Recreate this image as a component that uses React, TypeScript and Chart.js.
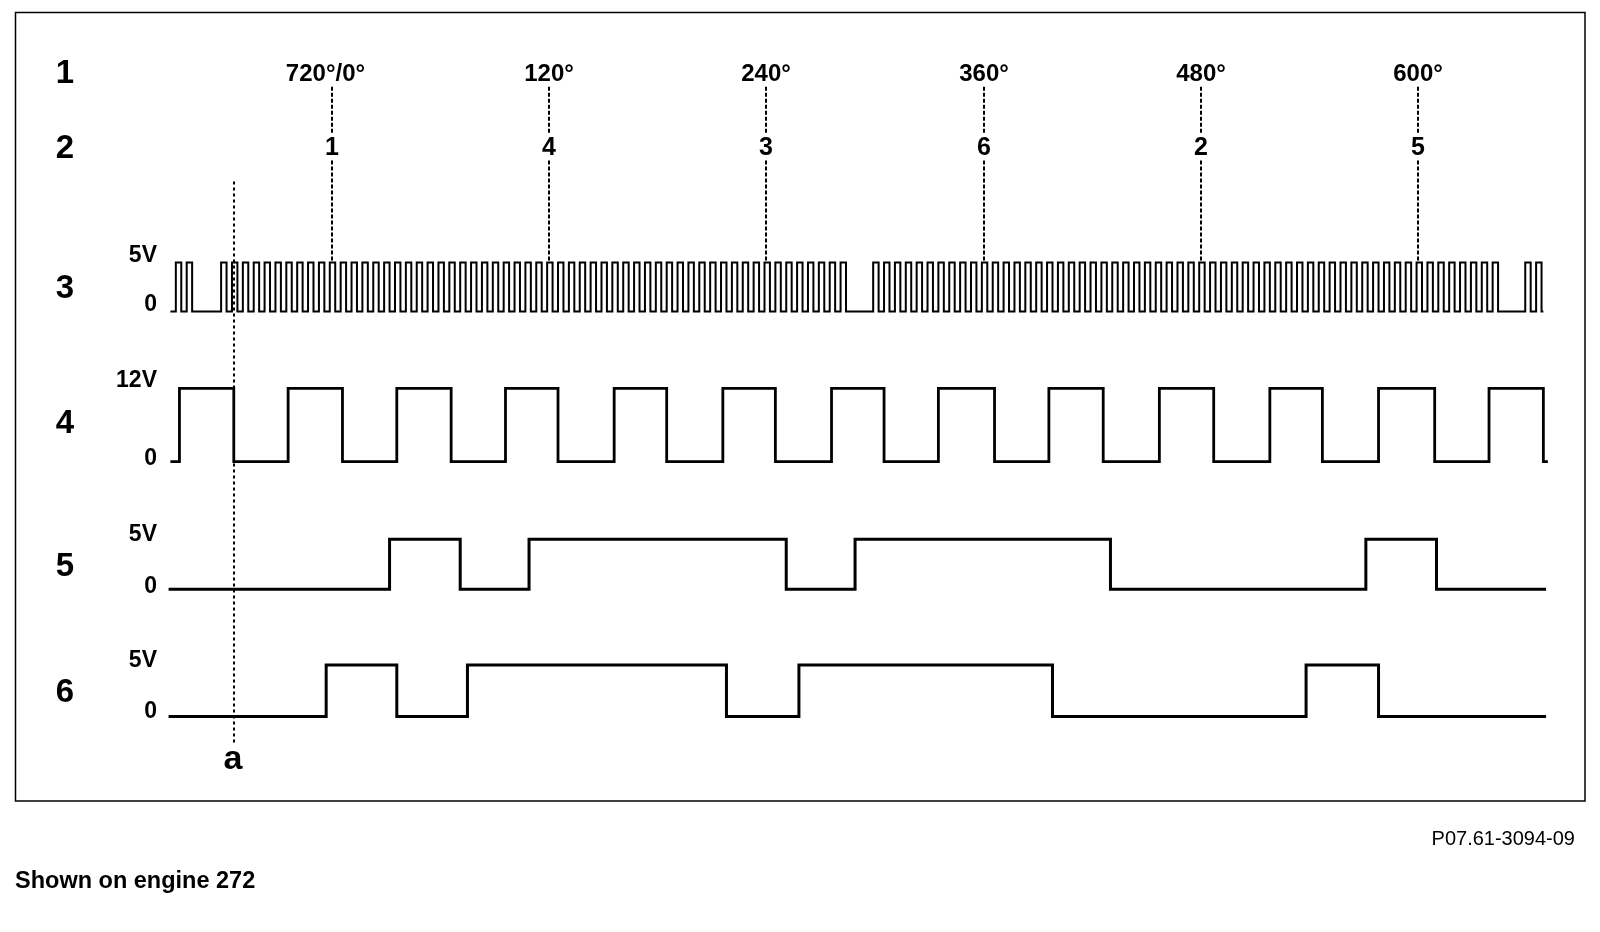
import React, { useEffect, useRef } from "react";
import { Chart, registerables } from "chart.js";

Chart.register(...registerables);

// ---------------- DATA (crank angle in degrees) ----------------
const DEGREE_MARKS = [0, 120, 240, 360, 480, 600];
const DEGREE_LABELS = ["720°/0°", "120°", "240°", "360°", "480°", "600°"];
const FIRING_ORDER = ["1", "4", "3", "6", "2", "5"];
const ROW_LABELS = ["1", "2", "3", "4", "5", "6"];

// Row 3: crankshaft position sensor (60-2 tooth wheel), rising edge of each tooth
const CRANK_START = -89;
const CRANK_END = 669;
const CRANK_HIGH_V = 5;
const CRANK_TOOTH_HIGH_DEG = 3;
const CRANK_TOOTH_RISE = [
  -86, -80,
  -61, -55, -49, -43, -37, -31, -25, -19, -13, -7, -1, 5, 11, 17, 23, 29, 35, 41,
  47, 53, 59, 65, 71, 77, 83, 89, 95, 101, 107, 113, 119, 125, 131, 137, 143, 149,
  155, 161, 167, 173, 179, 185, 191, 197, 203, 209, 215, 221, 227, 233, 239, 245,
  251, 257, 263, 269, 275, 281,
  299, 305, 311, 317, 323, 329, 335, 341, 347, 353, 359, 365, 371, 377, 383, 389,
  395, 401, 407, 413, 419, 425, 431, 437, 443, 449, 455, 461, 467, 473, 479, 485,
  491, 497, 503, 509, 515, 521, 527, 533, 539, 545, 551, 557, 563, 569, 575, 581,
  587, 593, 599, 605, 611, 617, 623, 629, 635, 641,
  659, 665,
];

// Row 4: 12 V signal, alternating rise / fall edges (starts low)
const SIG4_START = -89;
const SIG4_END = 671.5;
const SIG4_HIGH_V = 12;
const SIG4_EDGES = [
  -84, -54, -24, 6, 36, 66, 96, 125, 156, 185, 216, 245, 276, 305, 335, 366,
  396, 426, 457, 487, 518, 547, 578, 609, 639, 669,
];

// Row 5: 5 V camshaft signal (starts low)
const SIG5_START = -90;
const SIG5_END = 670.5;
const SIG5_HIGH_V = 5;
const SIG5_EDGES = [32, 71, 109, 251, 289, 430, 571, 610];

// Row 6: 5 V camshaft signal (starts low)
const SIG6_START = -90;
const SIG6_END = 670.5;
const SIG6_HIGH_V = 5;
const SIG6_EDGES = [-3, 36, 75, 218, 258, 398, 538, 578];

// Reference mark "a"
const MARK_A_DEG = -54;
const MARK_A_LABEL = "a";

const VOLT_LABELS_3 = ["5V", "0"];
const VOLT_LABELS_4 = ["12V", "0"];
const VOLT_LABELS_5 = ["5V", "0"];
const VOLT_LABELS_6 = ["5V", "0"];

// ---------------- LAYOUT ----------------
const W = 1600;
const H = 932;
const PX_X0 = 331.6; // pixel of 0°
const PX_PER_DEG = 1.8113;
const FONT = "'Liberation Sans', Arial, Helvetica, sans-serif";

// pixel anchors for each row: [pixel of 0 V, pixel of high level]
const ROW_PX: Record<string, [number, number]> = {
  y3: [311.5, 262.5],
  y4: [461.7, 388.3],
  y5: [589.3, 539.3],
  y6: [716.5, 665],
};

function rowScale(id: string, high: number) {
  const [p0, pH] = ROW_PX[id];
  const vPerPx = high / (p0 - pH);
  const max = p0 * vPerPx;
  return { type: "linear" as const, display: false, min: max - H * vPerPx, max };
}

function squareWave(start: number, edges: number[], end: number, high: number) {
  const pts: { x: number; y: number }[] = [{ x: start, y: 0 }];
  let level = 0;
  for (const e of edges) {
    level = level === 0 ? high : 0;
    pts.push({ x: e, y: level });
  }
  pts.push({ x: end, y: level });
  return pts;
}

function crankEdges() {
  const edges: number[] = [];
  for (const r of CRANK_TOOTH_RISE) {
    edges.push(r, r + CRANK_TOOTH_HIGH_DEG);
  }
  return edges;
}

const diagramPlugin = {
  id: "diagram",
  beforeDatasetsDraw(chart: any) {
    const ctx: CanvasRenderingContext2D = chart.ctx;
    const x = chart.scales.x;
    const y3 = chart.scales.y3;
    ctx.save();
    // frame
    ctx.strokeStyle = "#000";
    ctx.lineWidth = 1.5;
    ctx.strokeRect(15.5, 12.5, 1569.5, 788.5);

    const degY = 74.4;
    const cylY = 148.4;
    // dashed marker lines + labels
    ctx.fillStyle = "#000";
    ctx.textBaseline = "middle";
    ctx.textAlign = "center";
    DEGREE_MARKS.forEach((d, i) => {
      const px = Math.round(x.getPixelForValue(d));
      ctx.setLineDash([4, 2]);
      ctx.lineWidth = 2;
      ctx.beginPath();
      ctx.moveTo(px, 86.7);
      ctx.lineTo(px, cylY - 14);
      ctx.moveTo(px, cylY + 12);
      ctx.lineTo(px, y3.getPixelForValue(CRANK_HIGH_V));
      ctx.stroke();
      ctx.setLineDash([]);
      const lbl = DEGREE_LABELS[i];
      ctx.font = `bold 24px ${FONT}`;
      const shift = lbl.includes("/") ? -6.5 : 0;
      ctx.fillText(lbl, px + shift, degY);
      ctx.font = `bold 25px ${FONT}`;
      ctx.fillText(FIRING_ORDER[i], px, cylY);
    });

    // mark a
    const ax = Math.round(x.getPixelForValue(MARK_A_DEG));
    ctx.setLineDash([3, 3]);
    ctx.lineWidth = 2;
    ctx.beginPath();
    ctx.moveTo(ax, 181.6);
    ctx.lineTo(ax, 745);
    ctx.stroke();
    ctx.setLineDash([]);
    ctx.font = `bold 34px ${FONT}`;
    ctx.textBaseline = "alphabetic";
    ctx.fillText(MARK_A_LABEL, ax - 1, 769);

    // row labels
    ctx.textBaseline = "middle";
    ctx.font = `bold 33px ${FONT}`;
    const rowY = [
      degY,
      cylY + 1,
      (ROW_PX.y3[0] + ROW_PX.y3[1]) / 2 + 2,
      (ROW_PX.y4[0] + ROW_PX.y4[1]) / 2 - 1,
      (ROW_PX.y5[0] + ROW_PX.y5[1]) / 2 + 3,
      (ROW_PX.y6[0] + ROW_PX.y6[1]) / 2 + 2,
    ];
    ROW_LABELS.forEach((l, i) => ctx.fillText(l, 65, rowY[i]));

    // voltage labels
    ctx.textAlign = "right";
    ctx.font = `bold 23px ${FONT}`;
    const volt = (id: string, high: number, labels: string[], dHigh: number, dLow: number) => {
      const s = chart.scales[id];
      ctx.fillText(labels[0], 157, s.getPixelForValue(high) - dHigh);
      ctx.fillText(labels[1], 157, s.getPixelForValue(0) - dLow);
    };
    volt("y3", CRANK_HIGH_V, VOLT_LABELS_3, 7, 7);
    volt("y4", SIG4_HIGH_V, VOLT_LABELS_4, 8, 3);
    volt("y5", SIG5_HIGH_V, VOLT_LABELS_5, 5, 3);
    volt("y6", SIG6_HIGH_V, VOLT_LABELS_6, 4, 5);
    ctx.restore();
  },
};

export default function App() {
  const ref = useRef<HTMLCanvasElement>(null);
  useEffect(() => {
    const line = (data: any[], yAxisID: string, width: number) => ({
      data,
      yAxisID,
      xAxisID: "x",
      stepped: true,
      borderColor: "#000",
      borderWidth: width,
      pointRadius: 0,
      fill: false,
      tension: 0,
    });
    const chart = new Chart(ref.current as HTMLCanvasElement, {
      type: "line",
      data: {
        datasets: [
          line(squareWave(CRANK_START, crankEdges(), CRANK_END, CRANK_HIGH_V), "y3", 2),
          line(squareWave(SIG4_START, SIG4_EDGES, SIG4_END, SIG4_HIGH_V), "y4", 2.8),
          line(squareWave(SIG5_START, SIG5_EDGES, SIG5_END, SIG5_HIGH_V), "y5", 3),
          line(squareWave(SIG6_START, SIG6_EDGES, SIG6_END, SIG6_HIGH_V), "y6", 3),
        ] as any,
      },
      options: {
        animation: false,
        responsive: false,
        maintainAspectRatio: false,
        events: [],
        layout: { padding: 0 },
        plugins: { legend: { display: false }, tooltip: { enabled: false } },
        scales: {
          x: {
            type: "linear",
            display: false,
            min: -PX_X0 / PX_PER_DEG,
            max: (W - PX_X0) / PX_PER_DEG,
          },
          y3: rowScale("y3", CRANK_HIGH_V),
          y4: rowScale("y4", SIG4_HIGH_V),
          y5: rowScale("y5", SIG5_HIGH_V),
          y6: rowScale("y6", SIG6_HIGH_V),
        },
      } as any,
      plugins: [diagramPlugin],
    });
    return () => chart.destroy();
  }, []);

  return (
    <div
      style={{
        position: "fixed",
        left: 0,
        top: 0,
        width: W,
        height: H,
        background: "#fff",
        overflow: "hidden",
      }}
    >
      <canvas
        ref={ref}
        width={W}
        height={H}
        style={{ position: "absolute", left: 0, top: 0, width: W, height: H }}
      />
      <div
        style={{
          position: "absolute",
          right: 25,
          top: 826,
          font: `20px ${FONT}`,
          lineHeight: "24px",
          color: "#000",
          whiteSpace: "nowrap",
        }}
      >
        P07.61-3094-09
      </div>
      <div
        style={{
          position: "absolute",
          left: 15,
          top: 868,
          font: `bold 23.5px ${FONT}`,
          lineHeight: "24px",
          color: "#000",
          whiteSpace: "nowrap",
        }}
      >
        Shown on engine 272
      </div>
    </div>
  );
}
